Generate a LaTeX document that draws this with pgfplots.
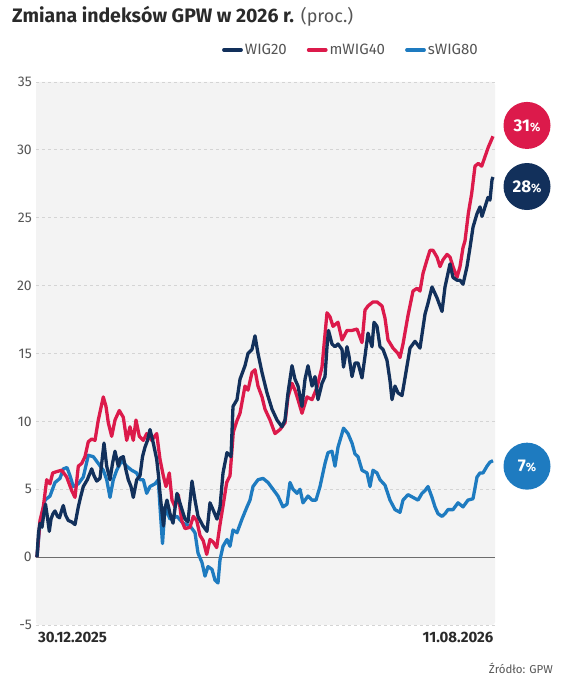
\documentclass[border=0pt]{standalone}
\usepackage{fontspec}
\setmainfont{Fira Sans}
\usepackage{pgfplots}
\pgfplotsset{compat=1.18}
\definecolor{wig}{HTML}{12305B}
\definecolor{mwig}{HTML}{DC1A4B}
\definecolor{swig}{HTML}{1E7BC0}
\definecolor{bg}{HTML}{F3F3F3}
\definecolor{gridc}{HTML}{D4D4D4}
\definecolor{ticktxt}{HTML}{555555}
\definecolor{txt}{HTML}{2A2A2A}

\pgfplotstableread{
x y
37 0
38.5 1.8
40 2.5
42 2.2
44 3.3
45.5 3.9
47.5 2.9
49.3 1.9
51 2.8
53 3.2
55 3.4
57.5 3.0
59.5 2.9
61.5 3.4
63.3 3.8
65.5 3.1
68.3 2.7
71.5 2.6
75 2.4
78.3 3.7
80.5 4.4
83.3 5.2
87.3 5.7
91.7 6.5
94 6.0
96.7 5.6
100 5.8
104 8.4
106.7 6.7
110 5.7
112.5 6.9
115 7.8
118.3 6.7
120.5 7.3
123.3 7.4
126 6.4
128.3 5.7
131 5.2
133.3 4.4
136.7 5.7
140 6.0
142.5 7.4
145 8.1
147.5 8.6
150 9.4
153 8.5
156.7 7.2
158.5 6.0
160 4.7
161.7 3.5
163.5 2.3
165 3.6
167 4.2
170 3.2
173 2.5
177 4.7
182 3.5
185 2.8
188 2.6
192 5.6
195 4.2
198 3.0
203 2.3
207 1.9
210 4.0
213 3.5
217 2.8
220 3.7
223 6.2
227 7.7
231 7.4
233 11.1
237 11.6
240 13.1
245 14.1
248 15.0
252 15.3
255 16.3
258 15.0
262 13.6
267 12.1
272 10.9
277 10.1
282 9.6
285 10.1
288 12.1
292 14.1
295 13.1
298 12.6
302 11.1
305 13.1
308 14.1
312 12.6
315 13.3
318 11.6
322 12.8
325 13.3
327 15.5
328.5 16.7
332 15.7
335 15.5
338 15.7
342 15.3
343.5 14.0
347 15.5
349 14.8
352 13.3
355 14.3
358 14.3
362 13.2
365 14.8
368 16.5
372 15.5
374 17.3
377 17.0
380 15.5
383 15.3
387 14.5
390 13.0
392 11.6
395 12.6
398 12.1
402 11.9
405 13.2
410 15.4
415 15.9
420 15.4
425 17.9
428 18.7
432 19.9
437 19.1
442 18.1
445 19.9
450 21.6
453 20.6
457 20.4
460 20.4
463 20.1
467 21.4
470 22.8
473 24.3
477 25.3
480 25.8
482 25.1
485 25.8
488 26.5
490 26.3
492 27.8
493 28.0
}\wigdata

\pgfplotstableread{
x y
37 0
40 2.7
43.3 3.7
46.7 5.7
50 5.4
52.7 6.2
56.7 6.3
61.7 6.4
66.7 5.9
71.7 4.9
75 4.4
78.3 6.7
81.7 6.9
85 7.4
88.3 8.5
91.7 8.7
95 8.6
98.3 10.1
103.3 11.8
106 11.1
108.3 9.9
111.7 8.9
115 10.1
119.3 10.8
123.3 10.3
126.7 8.6
130 9.6
133.3 8.6
136 10.1
139.3 8.9
143.3 8.6
146.7 9.1
151.7 8.6
156.7 9.1
160 7.2
163.3 6.0
166 5.2
169.3 6.2
172 4.2
175 3.7
178.3 4.6
181.7 2.7
185 2.1
190 2.2
193.3 3.0
196.7 2.7
200 1.6
203.3 1.2
206.7 0.2
210 1.3
213.3 1.1
216.7 0.7
220 2.4
223.3 3.9
226.7 5.5
230 6.0
233.3 9.2
236.7 10.0
240 10.6
245 12.6
248 12.3
252 13.6
255 13.8
258 12.6
262 11.8
265 10.9
270 10.1
275 9.1
280 9.4
285 9.9
288 11.8
292 12.8
295 12.3
298 11.6
302 10.6
307 11.8
312 11.6
317 12.5
322 14.0
327 18.0
330 17.7
333 17.0
338 17.3
342 16.0
347 16.7
352 16.7
357 16.8
362 15.8
365 18.2
368 18.5
373 18.8
377 18.8
382 18.5
385 17.6
388 16.0
393 15.4
398 15.0
400 14.7
403 15.7
408 17.8
413 19.6
417 19.8
420 19.6
423 20.9
427 21.9
430 22.6
433 22.6
437 22.1
440 21.4
443 21.9
447 22.3
450 22.1
453 21.4
457 20.6
460 21.4
463 22.8
465 23.3
468.3 25.3
471.7 26.8
475 28.8
478.3 29.0
481.7 28.8
485 29.5
488.3 30.2
493 31.0
}\mwigdata

\pgfplotstableread{
x y
37 0
40 2.5
45 4.2
50 4.5
55 5.5
60 5.8
63.3 6.5
67 6.6
70 6.0
73.3 5.2
78.3 5.4
83.3 5.9
88.3 7.5
93.3 7.4
98.3 6.9
103.3 6.4
106.7 5.7
110 4.4
113.3 5.7
116.7 6.4
121.7 7.1
126.7 6.7
131.7 6.4
136.7 6.2
140 5.7
143.3 5.7
146.7 4.7
150 5.2
155 5.4
158.3 5.7
160 3.7
162.5 1.0
165 3.7
170 2.8
177 3.0
183 2.5
190 2.3
195 1.8
198 0.3
202 -0.4
205 -1.4
208 -0.7
212 -0.9
215 -1.7
218 -1.9
220 -0.2
223 0.8
227 1.3
230 0.8
233 2.0
237 1.8
242 2.8
247 3.7
250 4.2
253 5.2
258 5.7
263 5.8
268 5.5
273 5.0
278 4.5
283 3.7
287 3.9
290 5.5
293 5.0
297 4.7
300 5.0
303 4.0
308 4.5
312 4.2
316 4.2
320 5.2
325 6.9
328 7.7
332 7.8
335 6.7
338 8.1
342 9.1
343.5 9.5
348 9.1
352 8.4
355 7.6
358 7.4
362 6.4
367 6.2
370 5.2
373 6.4
377 6.2
380 5.7
385 5.3
390 4.2
395 3.5
400 3.3
403 4.2
408 4.6
413 4.4
418 4.2
422 4.7
425 4.9
428 5.2
432 4.4
435 3.7
438 3.2
442 3.0
445 3.2
448 3.5
453 3.5
458 4.0
463 3.7
468 4.2
473 4.3
477 5.9
480 6.2
483 6.2
487 6.7
490 7.0
493 7.1
}\swigdata

\begin{document}
\begin{tikzpicture}
\path[use as bounding box] (0,0) rectangle (564pt,682pt);
\node[anchor=base west, inner sep=0pt, text=txt, font=\fontsize{19.5}{22}\selectfont] at (12pt,659pt) {\textbf{Zmiana indeksów GPW w 2026 r.} \textcolor{ticktxt}{\fontsize{18}{20}\selectfont(proc.)}};
\begin{axis}[
  at={(36pt,57pt)}, anchor=south west,
  width=459pt, height=543pt, scale only axis,
  xmin=36, xmax=495, ymin=-5, ymax=35,
  clip=false,
  axis line style={draw=none},
  major tick length=0pt,
  axis background/.style={fill=bg, rounded corners=3pt},
  ytick={-5,0,5,10,15,20,25,30,35},
  yticklabels={-5,0,5,10,15,20,25,30,35},
  yticklabel style={font=\fontsize{14}{16}\selectfont, text=ticktxt, anchor=east, inner sep=0pt, xshift=-4pt},
  ymajorgrids,
  grid style={gridc, line width=0.8pt, dash pattern=on 3pt off 3pt},
  xtick={72.5,458},
  xticklabels={30.12.2025,11.08.2026},
  xticklabel style={font=\fontsize{15}{17}\selectfont\bfseries, text=txt, anchor=north, inner sep=0pt, yshift=-7pt},
  legend columns=3,
  legend style={at={(0.405,1.059)}, anchor=west, draw=none, fill=none,
     font=\fontsize{15}{17}\selectfont, text=ticktxt, inner sep=0pt,
     /tikz/every even column/.append style={column sep=18pt}},
  legend image code/.code={\draw[#1, line width=3.8pt, line cap=round] (2pt,0pt) -- (19pt,0pt);},
]
\addlegendimage{wig}\addlegendentry{WIG20}
\addlegendimage{mwig}\addlegendentry{mWIG40}
\addlegendimage{swig}\addlegendentry{sWIG80}
\draw[gray!85!black, line width=1.2pt] (axis cs:36,0) -- (axis cs:495,0);
\addplot[swig, line width=3.3pt, line join=round, forget plot] table {\swigdata};
\addplot[mwig, line width=3.3pt, line join=round, forget plot] table {\mwigdata};
\addplot[wig, line width=3.3pt, line join=round, forget plot] table {\wigdata};
\node[circle, fill=mwig, minimum size=47pt, inner sep=0pt, text=white, font=\fontsize{17}{19}\selectfont\bfseries] at (axis cs:527,31.8) {31{\fontsize{12}{14}\selectfont\%}};
\node[circle, fill=wig, minimum size=47pt, inner sep=0pt, text=white, font=\fontsize{17}{19}\selectfont\bfseries] at (axis cs:527,27.3) {28{\fontsize{12}{14}\selectfont\%}};
\node[circle, fill=swig, minimum size=47pt, inner sep=0pt, text=white, font=\fontsize{17}{19}\selectfont\bfseries] at (axis cs:527,6.7) {7{\fontsize{12}{14}\selectfont\%}};
\end{axis}
\node[anchor=east, inner sep=0pt, text=ticktxt, font=\fontsize{11.5}{13}\selectfont] at (553pt,14pt) {Źródło: GPW};
\end{tikzpicture}
\end{document}
